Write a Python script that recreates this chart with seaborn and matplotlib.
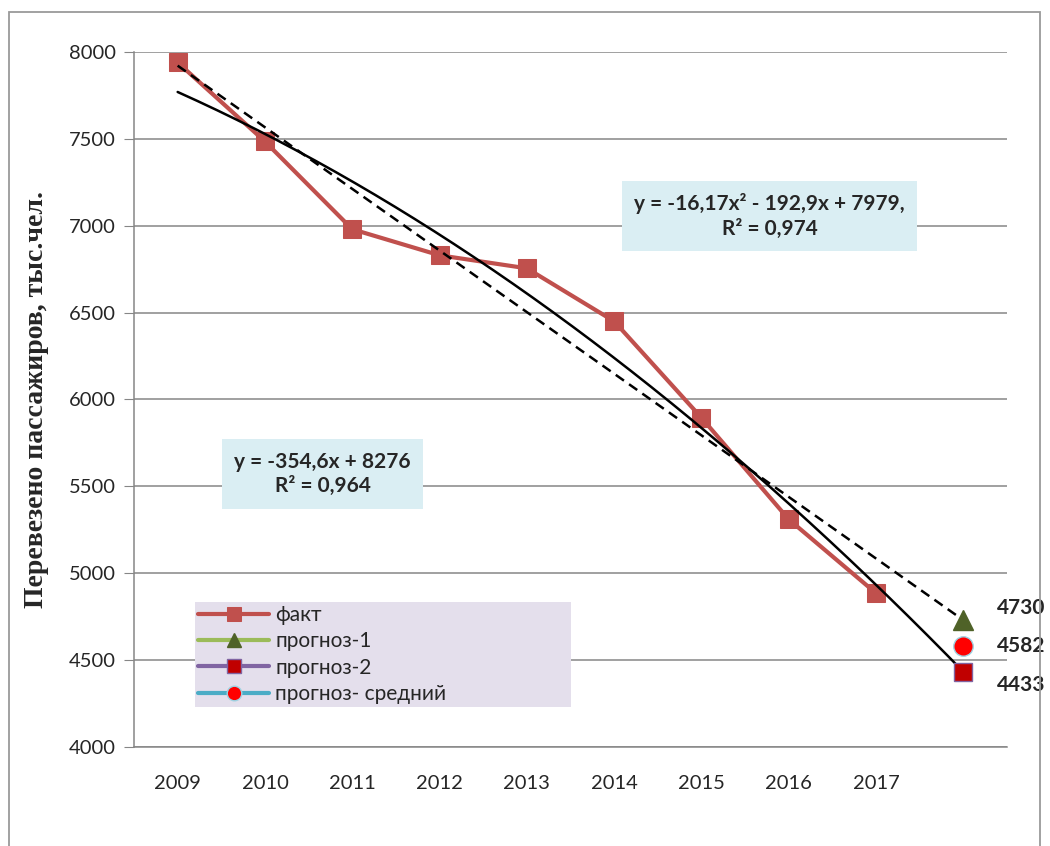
import numpy as np
import pandas as pd
import matplotlib
matplotlib.use("Agg")
import matplotlib.pyplot as plt
import seaborn as sns
from matplotlib.patches import Rectangle
from matplotlib.ticker import FixedLocator

# data
years = ['2009', '2010', '2011', '2012', '2013', '2014', '2015', '2016', '2017', '']
fact = [7940, 7485, 6980, 6830, 6755, 6450, 5895, 5310, 4885]
forecast_1 = 4730
forecast_2 = 4433
forecast_avg = 4582

# trend lines shown in the chart (Excel trendlines, x = 1..10)
lin_coef = [-354.6, 8276]
poly_coef = [-16.17, -192.9, 7979]
lin_text = 'y = -354,6x + 8276\nR² = 0,964'
poly_text = 'y = -16,17x² - 192,9x + 7979,\nR² = 0,974'

sns.set_style('white')
plt.rcParams['font.family'] = ['Lato', 'DejaVu Sans']
plt.rcParams['font.size'] = 12

fig = plt.figure(figsize=(10.5, 8.46), dpi=100)
ax = fig.add_axes([134 / 1050, 1 - 747 / 846, 873 / 1050, 695 / 846])

pos = np.arange(len(years))
df = pd.DataFrame({'pos': pos[:len(fact)], 'value': fact})

# trendlines
xt = np.linspace(1, 10, 200)
ax.plot(xt - 1, np.polyval(lin_coef, xt), color='black', lw=1.8, ls=(0, (4, 2.5)), zorder=3)
ax.plot(xt - 1, np.polyval(poly_coef, xt), color='black', lw=1.8, zorder=3)

sns.lineplot(data=df, x='pos', y='value', ax=ax, color='#C0504D', lw=3, marker='s',
             markersize=13, markeredgecolor='#C0504D', label='факт', zorder=2)

ax.plot([pos[9]], [forecast_1], marker='^', ls='-', color='#9BBB59', markersize=14,
        markerfacecolor='#4F6228', markeredgecolor='#4F6228', lw=3, label='прогноз-1', zorder=4)
ax.plot([pos[9]], [forecast_2], marker='s', ls='-', color='#8064A2', markersize=13,
        markerfacecolor='#C00000', markeredgecolor='#8064A2', lw=3, label='прогноз-2', zorder=4)
ax.plot([pos[9]], [forecast_avg], marker='o', ls='-', color='#4BACC6', markersize=14,
        markerfacecolor='#FF0000', markeredgecolor='#9DD3E3', lw=3, label='прогноз- средний', zorder=5)

for v, dy in [(forecast_1, 70), (forecast_avg, 0), (forecast_2, -75)]:
    ax.text(9.66, v + dy, str(v), ha='center', va='center', fontsize=15, fontweight='bold',
            clip_on=False)

ax.set_xlim(-0.5, 9.5)
ax.set_ylim(4000, 8000)
ax.set_yticks(np.arange(4000, 8001, 500))
ax.set_xticks(pos)
ax.set_xticklabels(years)
ax.xaxis.set_minor_locator(FixedLocator(np.arange(-0.5, 10, 1)))
ax.tick_params(axis='x', which='major', length=0, pad=20, labelsize=14.5)
ax.tick_params(axis='x', which='minor', length=7, color='#868686', direction='out')
ax.tick_params(axis='y', length=7, color='#868686', direction='out', labelsize=14.5, pad=6,
               left=True)
ax.yaxis.grid(True, color='#868686', lw=1.1)
ax.xaxis.grid(False)
for s in ['top', 'right']:
    ax.spines[s].set_visible(False)
for s in ['left', 'bottom']:
    ax.spines[s].set_color('#868686')
    ax.spines[s].set_linewidth(1.1)
ax.set_xlabel('')
ax.set_ylabel('Перевезено пассажиров, тыс.чел.', family=['Liberation Serif', 'DejaVu Serif'],
              fontsize=20, fontweight='bold', labelpad=14)

box = dict(boxstyle='square,pad=0.6', facecolor='#DAEEF3', edgecolor='none')
ax.text(6.78, 7056, poly_text, ha='center', va='center', fontsize=15, fontweight='bold',
        linespacing=1.3, bbox=box, zorder=6)
ax.text(1.66, 5571, lin_text, ha='center', va='center', fontsize=15, fontweight='bold',
        linespacing=1.3, bbox=box, zorder=6)

leg = ax.legend(loc='lower left', bbox_to_anchor=(0.07, 0.0576, 0.43, 0.158), mode='expand',
                frameon=True, fancybox=False, facecolor='#E4DFEC', edgecolor='none',
                framealpha=1, fontsize=15, handlelength=3.4, borderpad=0.15, markerscale=0.75,
                labelspacing=0.3, handletextpad=0.3, borderaxespad=0)
leg.set_zorder(7)
leg._legend_box.align = 'left'

fig.patches.append(Rectangle((9 / 1050, -0.01), 1031 / 1050, 1 - 12 / 846 + 0.01,
                             transform=fig.transFigure, fill=False, edgecolor='#9A9A9A', lw=1.3))

fig.savefig('out.png', dpi=100)
